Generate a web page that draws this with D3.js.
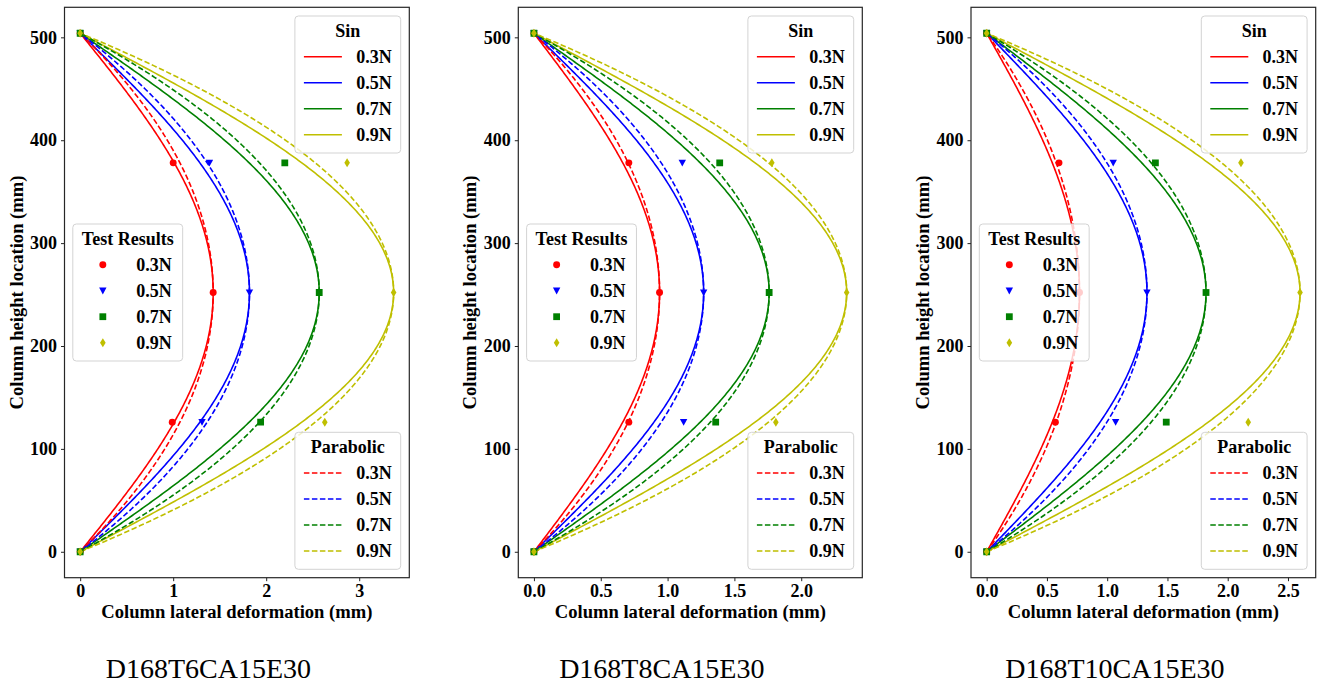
<!DOCTYPE html>
<html>
<head>
<meta charset="utf-8">
<script src="https://cdn.jsdelivr.net/npm/d3@7"></script>
<style>
  html, body { margin: 0; padding: 0; background: #fff; }
  svg { display: block; font-family: "Liberation Serif", "Times New Roman", serif; }
</style>
</head>
<body>
<svg id="chart" width="1322" height="686"></svg>
<script>
// Measurement heights along the column (mm)
const heights = [0, 126, 252, 378, 504];
const columnHeight = 504;
const loads = ["0.3N", "0.5N", "0.7N", "0.9N"];
const colors = ["#ff0000", "#0000ff", "#008000", "#bfbf00"];
const markerShapes = ["circle", "triangleDown", "square", "thinDiamond"];
const specimens = ["D168T6CA15E30", "D168T8CA15E30", "D168T10CA15E30"];

// Measured lateral deformation (mm) at each height, one row per load level
const testT6 = [
  [0, 0.99, 1.43, 1.00, 0],
  [0, 1.31, 1.82, 1.39, 0],
  [0, 1.94, 2.57, 2.20, 0],
  [0, 2.63, 3.37, 2.87, 0]
];
const testT8 = [
  [0, 0.71, 0.94, 0.71, 0],
  [0, 1.12, 1.27, 1.11, 0],
  [0, 1.36, 1.76, 1.39, 0],
  [0, 1.81, 2.34, 1.78, 0]
];
const testT10 = [
  [0, 0.57, 0.77, 0.60, 0],
  [0, 1.07, 1.33, 1.05, 0],
  [0, 1.49, 1.82, 1.40, 0],
  [0, 2.17, 2.60, 2.11, 0]
];

const xTicksT6 = [0, 1, 2, 3];
const xTicksT8 = [0, 0.5, 1, 1.5, 2];
const xTicksT10 = [0, 0.5, 1, 1.5, 2, 2.5];
const yTicks = [0, 100, 200, 300, 400, 500];

const panels = [
  { name: specimens[0], test: testT6,  xTicks: xTicksT6,  fmt: d3.format("d"),   left: 64.5,  right: 409.3 },
  { name: specimens[1], test: testT8,  xTicks: xTicksT8,  fmt: d3.format(".1f"), left: 518.3, right: 862.3 },
  { name: specimens[2], test: testT10, xTicks: xTicksT10, fmt: d3.format(".1f"), left: 971,   right: 1315.7 }
];

const axTop = 7.3, axBottom = 577.7;
const FONT = 18;
const LABEL_FONT = 18.6;

// Deflected shapes with the mid-height deformation as amplitude
const sinShape = (amp, h) => amp * Math.sin(Math.PI * h / columnHeight);
const parabolicShape = (amp, h) => 4 * amp * (h / columnHeight) * (1 - h / columnHeight);
const samples = d3.range(0, 401).map(i => columnHeight * i / 400);

const svg = d3.select("#chart");

function markerPath(shape) {
  if (shape === "circle") return d3.symbol(d3.symbolCircle, 38)();
  if (shape === "square") return "M-3.4,-3.4H3.4V3.4H-3.4Z";
  if (shape === "triangleDown") return "M-3.7,-3.1H3.7L0,3.7Z";
  return "M0,-4.5L2.8,0L0,4.5L-2.8,0Z";
}

panels.forEach((p, pi) => {
  const g = svg.append("g");
  const maxX = d3.max(p.test.flat());
  const x = d3.scaleLinear().domain([-0.05 * maxX, 1.05 * maxX]).range([p.left, p.right]);
  const y = d3.scaleLinear().domain([-0.05 * columnHeight, 1.05 * columnHeight]).range([axBottom, axTop]);

  const clipId = "clip" + pi;
  g.append("clipPath").attr("id", clipId)
    .append("rect").attr("x", p.left).attr("y", axTop)
    .attr("width", p.right - p.left).attr("height", axBottom - axTop);

  const plot = g.append("g").attr("clip-path", `url(#${clipId})`);
  const line = d3.line().x(d => x(d[0])).y(d => y(d[1]));

  // Sin curves
  p.test.forEach((row, li) => {
    const amp = row[2];
    plot.append("path")
      .attr("d", line(samples.map(h => [sinShape(amp, h), h])))
      .attr("fill", "none").attr("stroke", colors[li]).attr("stroke-width", 1.6);
  });
  // Parabolic curves
  p.test.forEach((row, li) => {
    const amp = row[2];
    plot.append("path")
      .attr("d", line(samples.map(h => [parabolicShape(amp, h), h])))
      .attr("fill", "none").attr("stroke", colors[li]).attr("stroke-width", 1.6)
      .attr("stroke-dasharray", "5.5,2.5");
  });
  // Test results
  p.test.forEach((row, li) => {
    plot.selectAll(null).data(row.map((v, i) => [v, heights[i]])).enter()
      .append("path")
      .attr("d", markerPath(markerShapes[li]))
      .attr("transform", d => `translate(${x(d[0])},${y(d[1])})`)
      .attr("fill", colors[li]);
  });

  // Axes
  const xAxis = d3.axisBottom(x).tickValues(p.xTicks).tickFormat(p.fmt).tickSize(3.5).tickPadding(3.5);
  const yAxis = d3.axisLeft(y).tickValues(yTicks).tickFormat(d3.format("d")).tickSize(3.5).tickPadding(4);
  const gx = g.append("g").attr("transform", `translate(0,${axBottom})`).call(xAxis);
  const gy = g.append("g").attr("transform", `translate(${p.left},0)`).call(yAxis);
  [gx, gy].forEach(a => {
    a.select(".domain").remove();
    a.selectAll(".tick line").attr("stroke", "#222").attr("stroke-width", 1);
    a.selectAll(".tick text").attr("fill", "#000")
      .style("font-family", '"Liberation Serif","Times New Roman",serif')
      .style("font-size", FONT + "px").style("font-weight", "bold");
  });

  g.append("rect")
    .attr("x", p.left).attr("y", axTop)
    .attr("width", p.right - p.left).attr("height", axBottom - axTop)
    .attr("fill", "none").attr("stroke", "#262626").attr("stroke-width", 1.2);

  g.append("text")
    .attr("x", (p.left + p.right) / 2).attr("y", 618)
    .attr("text-anchor", "middle").attr("font-size", LABEL_FONT).attr("font-weight", "bold")
    .text("Column lateral deformation (mm)");

  g.append("text")
    .attr("transform", `translate(${p.left - 42},${(axTop + axBottom) / 2}) rotate(-90)`)
    .attr("text-anchor", "middle").attr("font-size", LABEL_FONT).attr("font-weight", "bold")
    .text("Column height location (mm)");

  g.append("text")
    .attr("x", (p.left + p.right) / 2 - 28.5).attr("y", 678)
    .attr("text-anchor", "middle").attr("font-size", 28)
    .text(p.name);

  // Legends
  const entries = kind => loads.map((l, i) => ({ label: l, color: colors[i], kind, shape: markerShapes[i] }));
  drawLegend(g, "Sin", entries("solid"), { right: p.right - 8.6, top: axTop + 8.7 });
  drawLegend(g, "Parabolic", entries("dash"), { right: p.right - 8.6, bottom: axBottom - 8.4 });
  drawLegend(g, "Test Results", entries("marker"), { left: p.left + 8.3, centerY: (axTop + axBottom) / 2 });
});

function drawLegend(parent, title, items, pos) {
  const lg = parent.append("g");
  const box = lg.append("rect");
  const handleLen = 38, gap = 14.3, rowH = 26, firstRow = 40.7, boxH = 137;
  const titleEl = lg.append("text").attr("text-anchor", "middle")
    .attr("font-size", FONT).attr("font-weight", "bold").text(title);
  const labels = items.map(it => lg.append("text")
    .attr("font-size", FONT).attr("font-weight", "bold").text(it.label));
  const textW = d3.max(labels, t => t.node().getComputedTextLength());
  const blockW = handleLen + gap + textW;
  const boxW = Math.max(titleEl.node().getComputedTextLength(), blockW) + 18;

  let left, top;
  if (pos.right !== undefined) left = pos.right - boxW; else left = pos.left;
  if (pos.top !== undefined) top = pos.top;
  else if (pos.bottom !== undefined) top = pos.bottom - boxH;
  else top = pos.centerY - boxH / 2;

  box.attr("x", left).attr("y", top).attr("width", boxW).attr("height", boxH)
    .attr("rx", 3.5).attr("fill", "#fff").attr("fill-opacity", 0.8)
    .attr("stroke", "#d3d3d3").attr("stroke-width", 1);
  titleEl.attr("x", left + boxW / 2).attr("y", top + 20.5);

  const bx = left + (boxW - blockW) / 2;
  items.forEach((it, i) => {
    const cy = top + firstRow + rowH * i;
    if (it.kind === "marker") {
      lg.append("path").attr("d", markerPath(it.shape))
        .attr("transform", `translate(${bx + handleLen / 2},${cy})`).attr("fill", it.color);
    } else {
      lg.append("line").attr("x1", bx).attr("x2", bx + handleLen).attr("y1", cy).attr("y2", cy)
        .attr("stroke", it.color).attr("stroke-width", 1.6)
        .attr("stroke-dasharray", it.kind === "dash" ? "5.5,2.5" : null);
    }
    labels[i].attr("x", bx + handleLen + gap).attr("y", cy + 6);
  });
}
</script>
</body>
</html>
